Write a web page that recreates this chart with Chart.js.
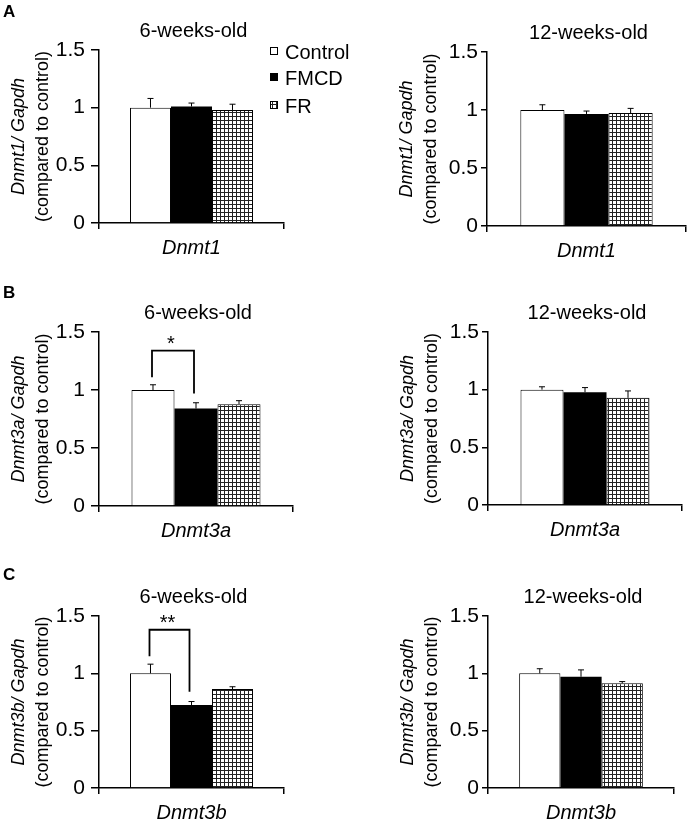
<!DOCTYPE html>
<html>
<head>
<meta charset="utf-8">
<script src="https://cdn.jsdelivr.net/npm/chart.js@4.4.0/dist/chart.umd.min.js"></script>
<style>
    body { margin: 0; background: #fff; width: 688px; height: 823px; position: relative; overflow: hidden; }
    canvas { position: absolute; }
</style>
</head>
<body>
<canvas id="c-a1" width="370" height="270" style="left:0;top:0"></canvas>
<canvas id="c-a2" width="344" height="270" style="left:344px;top:0"></canvas>
<canvas id="c-b1" width="344" height="280" style="left:0;top:270px"></canvas>
<canvas id="c-b2" width="344" height="280" style="left:344px;top:270px"></canvas>
<canvas id="c-c1" width="344" height="273" style="left:0;top:550px"></canvas>
<canvas id="c-c2" width="344" height="273" style="left:344px;top:550px"></canvas>
<script>
/**
 * EXPRESIÓN DE DNMT (qPCR) - 6 paneles de barras con error estándar
 */

// Datos
const grupos = ['Control', 'FMCD', 'FR'];
const genes = ['Dnmt1', 'Dnmt3a', 'Dnmt3b'];
const edades = ['6-weeks-old', '12-weeks-old'];
const ticksY = [0, 0.5, 1, 1.5];

const dnmt1_6sem = [1.00, 1.01, 0.98];
const dnmt1_6sem_err = [0.08, 0.03, 0.05];
const dnmt1_12sem = [1.00, 0.966, 0.974];
const dnmt1_12sem_err = [0.045, 0.025, 0.04];

const dnmt3a_6sem = [1.00, 0.84, 0.878];
const dnmt3a_6sem_err = [0.045, 0.05, 0.03];
const dnmt3a_12sem = [1.00, 0.978, 0.929];
const dnmt3a_12sem_err = [0.025, 0.04, 0.06];

const dnmt3b_6sem = [1.00, 0.724, 0.863];
const dnmt3b_6sem_err = [0.08, 0.03, 0.02];
const dnmt3b_12sem = [1.00, 0.97, 0.913];
const dnmt3b_12sem_err = [0.04, 0.06, 0.015];

const FUENTE = "'Liberation Sans', Arial, sans-serif";
Chart.defaults.font.family = FUENTE;
Chart.defaults.color = '#000';

/**
 * Patrón cuadriculado para el grupo FR
 */
function crearCuadricula() {
    const c = document.createElement('canvas');
    c.width = 4;
    c.height = 4;
    const g = c.getContext('2d');
    g.fillStyle = '#fff';
    g.fillRect(0, 0, 4, 4);
    g.fillStyle = '#222';
    g.fillRect(0, 0, 4, 1);
    g.fillRect(0, 0, 1, 4);
    return g.createPattern(c, 'repeat');
}

const cuadricula = crearCuadricula();
const rellenos = ['#fff', '#000', cuadricula];

// Configuración de cada panel (área del gráfico en px del canvas)
const paneles = [
    { id: 'c-a1', letra: 'A', yLetra: 17, edad: edades[0], gen: genes[0], medias: dnmt1_6sem, errores: dnmt1_6sem_err,
      area: { left: 99, top: 50, right: 284, bottom: 223 }, marca: [8, 6], leyenda: true },
    { id: 'c-a2', edad: edades[1], gen: genes[0], medias: dnmt1_12sem, errores: dnmt1_12sem_err,
      area: { left: 143, top: 52, right: 342, bottom: 226 }, marca: [6, 3] },
    { id: 'c-b1', letra: 'B', yLetra: 28, edad: edades[0], gen: genes[1], medias: dnmt3a_6sem, errores: dnmt3a_6sem_err,
      area: { left: 99, top: 62, right: 293, bottom: 236 }, marca: [8, 6],
      llave: { texto: '*', arriba: 1.34, izq: 1.11, der: 0.97 } },
    { id: 'c-b2', edad: edades[1], gen: genes[1], medias: dnmt3a_12sem, errores: dnmt3a_12sem_err,
      area: { left: 144, top: 62, right: 338, bottom: 235 }, marca: [6, 3] },
    { id: 'c-c1', letra: 'C', yLetra: 30, edad: edades[0], gen: genes[2], medias: dnmt3b_6sem, errores: dnmt3b_6sem_err,
      area: { left: 99, top: 66, right: 284, bottom: 238 }, marca: [8, 6],
      llave: { texto: '**', arriba: 1.38, izq: 1.15, der: 0.84 } },
    { id: 'c-c2', edad: edades[1], gen: genes[2], medias: dnmt3b_12sem, errores: dnmt3b_12sem_err,
      area: { left: 144, top: 66, right: 330, bottom: 238 }, marca: [6, 3] }
];

/**
 * Plugin con barras de error, llaves de significancia y textos del panel
 */
function crearPluginPanel(p) {
    return {
        id: 'panel_' + p.id,
        afterDatasetsDraw(chart) {
            const ctx = chart.ctx;
            const y = chart.scales.y;
            ctx.save();
            ctx.strokeStyle = '#000';
            ctx.lineWidth = 1;

            // Barras de error (solo hacia arriba)
            p.medias.forEach((m, i) => {
                const barra = chart.getDatasetMeta(i).data[0];
                const y0 = y.getPixelForValue(m);
                const y1 = y.getPixelForValue(m + p.errores[i]);
                ctx.beginPath();
                ctx.moveTo(barra.x, y0);
                ctx.lineTo(barra.x, y1);
                ctx.moveTo(barra.x - 3, y1);
                ctx.lineTo(barra.x + 3, y1);
                ctx.stroke();
            });

            // Llave de significancia Control vs FMCD
            if (p.llave) {
                const xa = chart.getDatasetMeta(0).data[0].x - 1;
                const xb = chart.getDatasetMeta(1).data[0].x - 2;
                const yt = y.getPixelForValue(p.llave.arriba);
                ctx.lineWidth = 1.8;
                ctx.beginPath();
                ctx.moveTo(xa, y.getPixelForValue(p.llave.izq));
                ctx.lineTo(xa, yt);
                ctx.lineTo(xb, yt);
                ctx.lineTo(xb, y.getPixelForValue(p.llave.der));
                ctx.stroke();
                ctx.font = '20px ' + FUENTE;
                ctx.fillStyle = '#000';
                ctx.textAlign = 'center';
                ctx.textBaseline = 'alphabetic';
                ctx.fillText(p.llave.texto, (xa + xb) / 2 - 2, yt - 1);
            }
            ctx.restore();
        },
        afterDraw(chart) {
            const ctx = chart.ctx;
            const a = chart.chartArea;
            ctx.save();
            ctx.fillStyle = '#000';

            // Letra del panel
            if (p.letra) {
                ctx.font = 'bold 17px ' + FUENTE;
                ctx.textAlign = 'left';
                ctx.fillText(p.letra, 3, p.yLetra);
            }

            // Título de edad
            ctx.font = '20px ' + FUENTE;
            ctx.textAlign = 'center';
            ctx.textBaseline = 'alphabetic';
            ctx.fillText(p.edad, (a.left + a.right) / 2 + 2, a.top - 13);

            // Título del eje Y (dos líneas, rotado)
            const yc = (a.top + a.bottom) / 2;
            ctx.translate(a.left, yc);
            ctx.rotate(-Math.PI / 2);
            ctx.textBaseline = 'middle';
            ctx.font = 'italic 18px ' + FUENTE;
            ctx.fillText(p.gen + '/ Gapdh', 0, -80);
            ctx.font = '18px ' + FUENTE;
            ctx.fillText('(compared to control)', 0, -56);
            ctx.setTransform(1, 0, 0, 1, 0, 0);

            // Leyenda
            if (p.leyenda) {
                const filas = [59, 85, 113];
                ctx.font = '20px ' + FUENTE;
                ctx.textAlign = 'left';
                ctx.textBaseline = 'alphabetic';
                grupos.forEach((g, i) => {
                    const yb = filas[i];
                    ctx.fillStyle = rellenos[i];
                    ctx.fillRect(270, yb - 12, 8, 8);
                    ctx.strokeStyle = '#000';
                    ctx.lineWidth = 1;
                    ctx.strokeRect(270.5, yb - 11.5, 7, 7);
                    ctx.fillStyle = '#000';
                    ctx.fillText(g, 285, yb);
                });
            }
            ctx.restore();
        }
    };
}

/**
 * Crear un panel de barras
 */
function crearPanel(p) {
    const canvas = document.getElementById(p.id);
    const W = canvas.width;
    const H = canvas.height;

    return new Chart(canvas.getContext('2d'), {
        type: 'bar',
        data: {
            labels: [p.gen],
            datasets: grupos.map((g, i) => ({
                label: g,
                data: [p.medias[i]],
                backgroundColor: rellenos[i],
                borderColor: '#000',
                borderWidth: i === 1 ? 0 : 1,
                barPercentage: 1,
                categoryPercentage: 0.665
            }))
        },
        options: {
            responsive: false,
            animation: false,
            events: [],
            layout: {
                padding: { left: 0, top: p.area.top, right: W - p.area.right, bottom: 0 }
            },
            plugins: {
                legend: { display: false },
                tooltip: { enabled: false },
                title: { display: false }
            },
            scales: {
                x: {
                    afterFit: s => { s.height = H - p.area.bottom; },
                    grid: {
                        drawOnChartArea: false,
                        drawTicks: true,
                        tickLength: 6,
                        color: '#000',
                        lineWidth: 1.5
                    },
                    border: { display: true, color: '#000', width: 1.5 },
                    ticks: {
                        padding: 7,
                        font: { size: 20, style: 'italic' }
                    }
                },
                y: {
                    min: 0,
                    max: 1.5,
                    afterFit: s => { s.width = p.area.left; },
                    afterBuildTicks: s => { s.ticks = ticksY.map(v => ({ value: v })); },
                    grid: {
                        drawOnChartArea: false,
                        drawTicks: true,
                        tickLength: p.marca[0],
                        color: '#000',
                        lineWidth: 1.5
                    },
                    border: { display: true, color: '#000', width: 1.5 },
                    ticks: {
                        padding: p.marca[1],
                        font: { size: 21 },
                        callback: v => String(v)
                    }
                }
            }
        },
        plugins: [crearPluginPanel(p)]
    });
}

paneles.forEach(crearPanel);
</script>
</body>
</html>
